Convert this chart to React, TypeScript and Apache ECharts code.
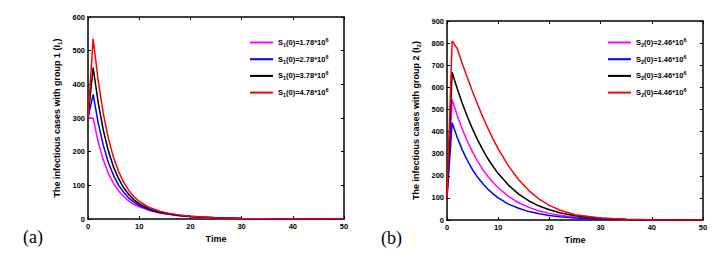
import React, { useEffect, useRef } from "react";
import * as echarts from "echarts";

const timeA = [0, 1, 2, 3, 4, 5, 6, 7, 8, 9, 10, 12, 14, 16, 18, 20, 22, 25, 30, 35, 40, 45, 50];

const namesA = ["S1(0)=1.78*10^6", "S1(0)=2.78*10^6", "S1(0)=3.78*10^6", "S1(0)=4.78*10^6"];
const a178 = [300, 300, 228, 175, 135, 105, 83, 66, 53, 43, 36, 25, 18, 13, 9.5, 7, 5, 3.2, 1.5, 0.7, 0.3, 0.15, 0.1];
const a278 = [300, 370, 285, 218, 167, 129, 100, 79, 62, 50, 40, 27, 19, 14, 10, 7.5, 5.3, 3.4, 1.6, 0.8, 0.35, 0.15, 0.1];
const a378 = [300, 450, 345, 263, 201, 154, 119, 92, 72, 57, 45, 30, 21, 15, 11, 8, 5.6, 3.5, 1.7, 0.8, 0.35, 0.15, 0.1];
const a478 = [300, 535, 410, 312, 238, 182, 140, 108, 84, 66, 52, 34, 23, 16, 11.5, 8.3, 5.8, 3.6, 1.7, 0.8, 0.35, 0.15, 0.1];

const namesB = ["S2(0)=2.46*10^6", "S2(0)=1.46*10^6", "S2(0)=3.46*10^6", "S2(0)=4.46*10^6"];
const b246 = [100, 545, 473, 410, 355, 307, 265, 228, 197, 170, 146, 107, 78, 57, 41, 30, 21, 13, 5.4, 2.0, 0.8, 0.3, 0.1];
const b146 = [100, 440, 373, 316, 268, 227, 193, 164, 139, 118, 100, 72, 53, 38, 28, 20, 14.6, 9, 4, 1.8, 0.8, 0.35, 0.15];
const b346 = [100, 668, 594, 527, 466, 411, 361, 317, 277, 242, 210, 158, 117, 86, 63, 46, 33, 19, 7.6, 2.8, 1.0, 0.4, 0.15];
const b446 = [100, 810, 775, 707, 642, 580, 521, 466, 414, 366, 322, 245, 182, 133, 94, 66, 45, 24, 9, 3.3, 1.2, 0.45, 0.17];

const colors = ["#ff00ff", "#0000ff", "#000000", "#ff0000"];

const FONT = "Liberation Sans, Arial, sans-serif";

function legendRich(name: string) {
  const sub = name.charAt(1);
  const rest = name.slice(2, name.indexOf("^"));
  const sup = name.slice(name.indexOf("^") + 1);
  return `{b|S}{sub|${sub}}{b|${rest}}{sup|${sup}}`;
}

const richStyles = {
  b: { fontSize: 7.5, fontWeight: "bold", fontFamily: FONT, color: "#000", lineHeight: 11 },
  sub: { fontSize: 5.5, fontWeight: "bold", fontFamily: FONT, color: "#000", lineHeight: 6, verticalAlign: "bottom" },
  sup: { fontSize: 5.5, fontWeight: "bold", fontFamily: FONT, color: "#000", lineHeight: 6, verticalAlign: "top" },
};

export default function App() {
  const ref = useRef<HTMLDivElement>(null);
  useEffect(() => {
    if (!ref.current) return;
    const chart = echarts.init(ref.current, null, { renderer: "svg" });
    const axisLine = { show: true, onZero: false, lineStyle: { color: "#000", width: 1.5 } };
    const tick = { show: true, inside: true, length: 3, lineStyle: { color: "#000", width: 1 } };
    const label = { fontSize: 7.5, fontWeight: "bold", fontFamily: FONT, color: "#000", margin: 3 };
    const nameStyle = { fontSize: 9, fontWeight: "bold", fontFamily: FONT, color: "#000" };

    const mkX = (g: number) => [
      {
        gridIndex: g, type: "value", min: 0, max: 50, interval: 10, position: "bottom",
        axisLine, axisTick: tick, axisLabel: label, splitLine: { show: false },
        name: "Time", nameLocation: "middle", nameGap: 11, nameTextStyle: nameStyle,
      },
      {
        gridIndex: g, type: "value", min: 0, max: 50, interval: 10, position: "top",
        axisLine, axisTick: tick, axisLabel: { show: false }, splitLine: { show: false },
      },
    ];
    const mkY = (g: number, max: number, title: string, subIdx: string) => [
      {
        gridIndex: g, type: "value", min: 0, max, interval: 100, position: "left",
        axisLine, axisTick: tick, axisLabel: label, splitLine: { show: false },
        name: `{n|${title} (I}{s|${subIdx}}{n|)}`, nameLocation: "middle", nameGap: 25,
        nameTextStyle: {
          ...nameStyle,
          rich: {
            n: { ...nameStyle, lineHeight: 12 },
            s: { ...nameStyle, fontSize: 6, lineHeight: 7, verticalAlign: "bottom" },
          },
        },
      },
      {
        gridIndex: g, type: "value", min: 0, max, interval: 100, position: "right",
        axisLine, axisTick: tick, axisLabel: { show: false }, splitLine: { show: false },
      },
    ];

    const seriesA = [a178, a278, a378, a478].map((vals, i) => ({
      name: namesA[i], type: "line", xAxisIndex: 0, yAxisIndex: 0, showSymbol: false, symbol: "none",
      lineStyle: { color: colors[i], width: 1.5 }, itemStyle: { color: colors[i] },
      data: timeA.map((t, j) => [t, vals[j]]),
    }));
    const seriesB = [b246, b146, b346, b446].map((vals, i) => ({
      name: namesB[i], type: "line", xAxisIndex: 2, yAxisIndex: 2, showSymbol: false, symbol: "none",
      lineStyle: { color: colors[i], width: 1.5 }, itemStyle: { color: colors[i] },
      data: timeA.map((t, j) => [t, vals[j]]),
    }));

    const mkLegend = (names: string[], left: number) => ({
      data: names, left, top: 37, orient: "vertical", padding: 0, itemGap: 5.7,
      itemWidth: 23, itemHeight: 2, icon: "rect", selectedMode: false,
      formatter: (n: string) => legendRich(n),
      textStyle: { rich: richStyles, fontSize: 7.5, fontWeight: "bold", fontFamily: FONT, color: "#000" },
    });

    chart.setOption({
      animation: false,
      backgroundColor: "#fff",
      grid: [
        { left: 88, top: 17, width: 256, height: 202 },
        { left: 447, top: 21, width: 256, height: 199 },
      ],
      xAxis: [...mkX(0), ...mkX(1)],
      yAxis: [
        ...mkY(0, 600, "The infectious cases with group 1", "1"),
        ...mkY(1, 900, "The infectious cases with group 2", "2"),
      ],
      legend: [mkLegend(namesA, 250), mkLegend(namesB, 608)],
      series: [...seriesA, ...seriesB],
      graphic: [
        { type: "text", left: 23, top: 228, style: { text: "(a)", font: "18px Liberation Serif, Times New Roman, serif", fill: "#000" } },
        { type: "text", left: 381, top: 229, style: { text: "(b)", font: "18px Liberation Serif, Times New Roman, serif", fill: "#000" } },
      ],
    } as any);
    return () => chart.dispose();
  }, []);
  return <div ref={ref} style={{ position: "fixed", left: 0, top: 0, width: 712, height: 253 }} />;
}
